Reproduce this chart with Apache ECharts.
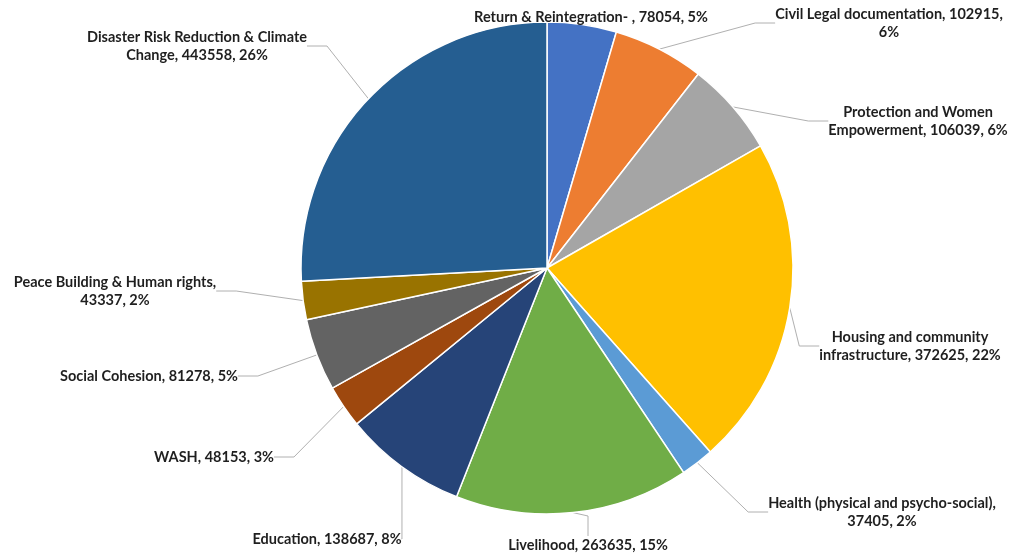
<!DOCTYPE html>
<html>
<head>
<meta charset="utf-8">
<script src="https://cdn.jsdelivr.net/npm/echarts@6/dist/echarts.min.js"></script>
<style>
html,body{margin:0;padding:0;background:#fff;}
#chart{width:1014px;height:558px;}
</style>
</head>
<body>
<div id="chart"></div>
<script>
// Data (clockwise from 12 o'clock)
const categories = [
  "Return & Reintegration- ",
  "Civil Legal documentation",
  "Protection and Women Empowerment",
  "Housing and community infrastructure",
  "Health (physical and psycho-social)",
  "Livelihood",
  "Education",
  "WASH",
  "Social Cohesion",
  "Peace Building & Human rights",
  "Disaster Risk Reduction & Climate Change"
];
const values = [78054, 102915, 106039, 372625, 37405, 263635, 138687, 48153, 81278, 43337, 443558];
// Percent labels as printed on the chart
const percentLabels = ["5%", "6%", "6%", "22%", "2%", "15%", "8%", "3%", "5%", "2%", "26%"];
const colors = ["#4472C4", "#ED7D31", "#A5A5A5", "#FFC000", "#5B9BD5", "#70AD47", "#264478", "#9E480E", "#636363", "#997300", "#255E91"];

// Label text wrapping (where each label breaks onto a second line)
const nameBreakAfter = [null, null, "Women", "community", null, null, null, null, null, null, "Climate"];
const breakBefore = [null, "pct", null, null, "value", null, null, null, null, "value", null];

// Label positions (centres of label text blocks)
const labelPos = [
  [591, 17], [889, 23], [918, 121], [910, 346], [882, 512],
  [588, 545], [327, 539], [214, 457], [149, 376], [115, 291], [197, 46]
];

function labelText(i) {
  let name = categories[i];
  const nb = nameBreakAfter[i];
  if (nb) {
    const k = name.indexOf(nb) + nb.length;
    name = name.slice(0, k) + "\n" + name.slice(k + 1);
  }
  const sep1 = breakBefore[i] === "value" ? ",\n" : ", ";
  const sep2 = breakBefore[i] === "pct" ? ",\n" : ", ";
  return name + sep1 + values[i] + sep2 + percentLabels[i];
}

const chart = echarts.init(document.getElementById('chart'), null, {renderer: 'canvas'});
chart.setOption({
  backgroundColor: '#ffffff',
  animation: false,
  series: [{
    type: 'pie',
    center: [547, 268],
    radius: [0, 246],
    startAngle: 90,
    clockwise: true,
    avoidLabelOverlap: false,
    itemStyle: { borderColor: '#ffffff', borderWidth: 1.5 },
    label: {
      show: true,
      formatter: p => labelText(p.dataIndex),
      fontFamily: 'Lato',
      fontWeight: 'bold',
      fontSize: 14.5,
      lineHeight: 18,
      color: '#1f1f1f',
      align: 'center'
    },
    labelLine: {
      show: true,
      length: 20,
      length2: 20,
      lineStyle: { color: '#b0b0b0', width: 1 }
    },
    labelLayout: params => ({
      x: labelPos[params.dataIndex][0],
      y: labelPos[params.dataIndex][1],
      align: 'center',
      verticalAlign: 'middle'
    }),
    data: categories.map((c, i) => ({ name: c, value: values[i], itemStyle: { color: colors[i] } }))
  }]
});
</script>
</body>
</html>
